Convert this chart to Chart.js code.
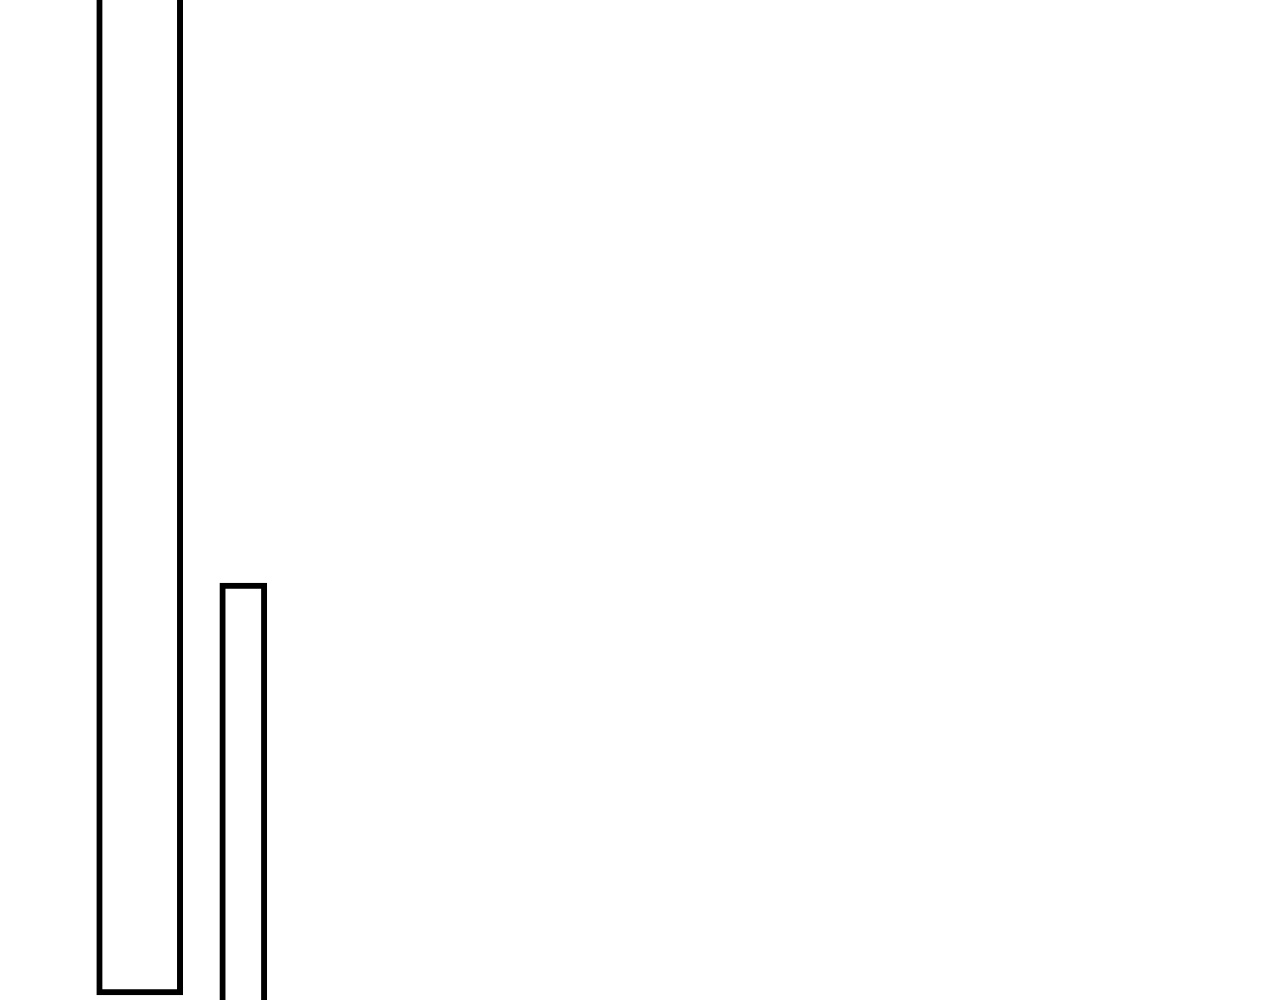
<!DOCTYPE html>
<html>
<head>
<meta charset="utf-8">
<title>Bars</title>
<script src="https://cdn.jsdelivr.net/npm/chart.js@4/dist/chart.umd.min.js"></script>
<style>
  html, body { margin: 0; padding: 0; background: #ffffff; }
  #wrap { width: 1280px; height: 1000px; }
</style>
</head>
<body>
<div id="wrap"><canvas id="myChart" width="1280" height="1000"></canvas></div>
<script>
'use strict';

// data
const categories = ["A", "B", "C", "D", "E", "F", "G", "H", "I", "J", "K"];
const firstRange = [[0, 120], null, null, null, null, null, null, null, null, null, null];
const secondRange = [null, [-6, 41.4], null, null, null, null, null, null, null, null, null];
const yTicks = [0, 100];

const data = {
  labels: categories,
  datasets: [{
    label: 'First',
    data: firstRange,
    backgroundColor: '#ffffff',
    borderColor: '#000000',
    borderWidth: 6,
    borderSkipped: false,
    barThickness: 86,
    clip: false
  }, {
    label: 'Second',
    data: secondRange,
    backgroundColor: '#ffffff',
    borderColor: '#000000',
    borderWidth: 6,
    borderSkipped: false,
    barThickness: 47,
    clip: false
  }]
};

const config = {
  type: 'bar',
  data: data,
  options: {
    responsive: false,
    animation: false,
    devicePixelRatio: 1,
    layout: {
      padding: { left: 87.9, right: 52.5, top: 0, bottom: 5 }
    },
    plugins: {
      legend: { display: false },
      tooltip: { enabled: false }
    },
    scales: {
      x: { display: false, stacked: true },
      y: { display: false, min: yTicks[0], max: yTicks[1] }
    }
  }
};

const myChart = new Chart(document.getElementById('myChart'), config);
</script>
</body>
</html>
